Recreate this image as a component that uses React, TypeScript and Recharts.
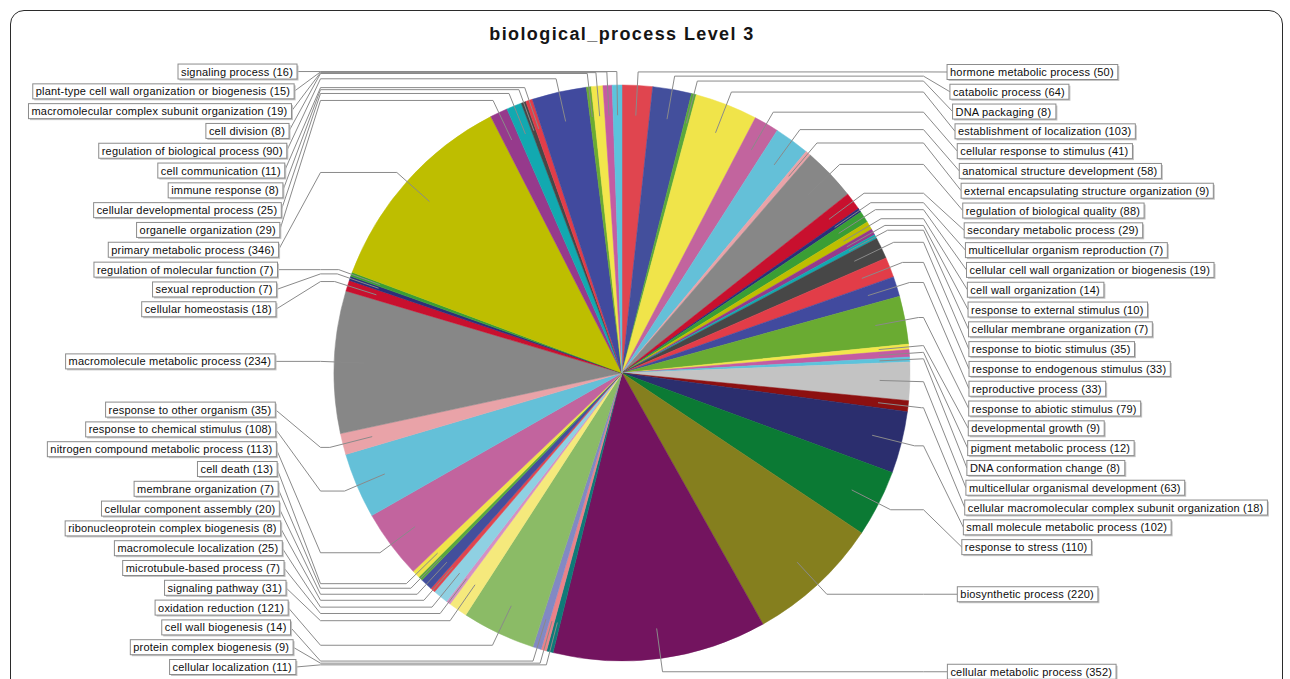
import React from 'react';
import { PieChart, Pie, Cell } from 'recharts';

// slices in drawing order, clockwise from 12 o'clock
const categories = [
  'hormone metabolic process',
  'catabolic process',
  'DNA packaging',
  'establishment of localization',
  'cellular response to stimulus',
  'anatomical structure development',
  'external encapsulating structure organization',
  'regulation of biological quality',
  'secondary metabolic process',
  'multicellular organism reproduction',
  'cellular cell wall organization or biogenesis',
  'cell wall organization',
  'response to external stimulus',
  'cellular membrane organization',
  'response to biotic stimulus',
  'response to endogenous stimulus',
  'reproductive process',
  'response to abiotic stimulus',
  'developmental growth',
  'pigment metabolic process',
  'DNA conformation change',
  'multicellular organismal development',
  'cellular macromolecular complex subunit organization',
  'small molecule metabolic process',
  'response to stress',
  'biosynthetic process',
  'cellular metabolic process',
  'cellular localization',
  'protein complex biogenesis',
  'cell wall biogenesis',
  'oxidation reduction',
  'signaling pathway',
  'microtubule-based process',
  'macromolecule localization',
  'ribonucleoprotein complex biogenesis',
  'cellular component assembly',
  'membrane organization',
  'cell death',
  'nitrogen compound metabolic process',
  'response to chemical stimulus',
  'response to other organism',
  'macromolecule metabolic process',
  'cellular homeostasis',
  'sexual reproduction',
  'regulation of molecular function',
  'primary metabolic process',
  'organelle organization',
  'cellular developmental process',
  'immune response',
  'cell communication',
  'regulation of biological process',
  'cell division',
  'macromolecular complex subunit organization',
  'plant-type cell wall organization or biogenesis',
  'signaling process',
];

const counts = [
  50, 64, 8, 103, 41, 58, 9, 88, 29, 7, 19, 14, 10, 7, 35, 33, 33, 79, 9, 12, 8, 63, 18, 102, 110, 220, 352,
  11, 9, 14, 121, 31, 7, 25, 8, 20, 7, 13, 113, 108, 35, 234, 18, 7, 7, 346, 29, 25, 8, 11, 90, 8, 19, 15, 16,
];

const chartTitle = 'biological_process Level 3';

// jfreechart-like default paint sequence, toned to the picture
const palette = [
  '#e0454f', '#434f9c', '#5aa83c', '#f0e44a', '#c2649e', '#64c0d8', '#e9a3a8', '#878787',
  '#c8102e', '#2b2f7a', '#3a9e35', '#bebe00', '#963a8c', '#12a9b0', '#474747',
  '#e23d48', '#414a9e', '#6aab32', '#f2e64c', '#c45ca2', '#5cc3dc', '#c3c3c3',
  '#8c1010', '#2b2e6e', '#0b7a34', '#857f1e', '#73145f', '#0e7a78',
  '#ea8289', '#8289c4', '#8bbb66', '#f5e97c', '#d590c4', '#8fd0e2',
];

const data = categories.map((name, i) => ({ name, value: counts[i] }));

const CX = 622;
const CY = 373;
const RADIUS = 288;
const ROW = 19.8;
const TOP_Y = 72;
const BOTTOM_Y = 667;
const FONT = '11px "Liberation Sans", Arial, sans-serif';
const SPACING = 0.2;

// label y slots, spread like jfreechart's label distributor
function layoutLabels() {
  const total = counts.reduce((a, b) => a + b, 0);
  const labelR = RADIUS + 13.5;
  const ys: number[] = [];
  const right: number[] = [];
  const left: number[] = [];
  let cum = 0;
  counts.forEach((v, i) => {
    const theta = ((cum + v / 2) / total) * Math.PI * 2;
    cum += v;
    ys[i] = CY - Math.cos(theta) * labelR;
    (theta < Math.PI ? right : left).push(i);
  });
  const spread = (idx: number[]) => {
    idx.sort((a, b) => ys[a] - ys[b]);
    for (let k = 1; k < idx.length; k++) {
      const prev = ys[idx[k - 1]];
      if (ys[idx[k]] < prev + ROW) ys[idx[k]] = Math.min(BOTTOM_Y, prev + ROW);
    }
    for (let k = idx.length - 1; k > 0; k--) {
      const next = ys[idx[k]];
      if (ys[idx[k - 1]] > next - ROW) ys[idx[k - 1]] = Math.max(TOP_Y, next - ROW);
    }
  };
  spread(right);
  spread(left);
  return ys;
}

const labelY = layoutLabels();

let ctx: CanvasRenderingContext2D | null = null;
function textWidth(s: string) {
  if (!ctx) {
    ctx = document.createElement('canvas').getContext('2d');
  }
  if (!ctx) return s.length * 5.6;
  ctx.font = FONT;
  return ctx.measureText(s).width + s.length * SPACING;
}

// label boxes sit on a flat ellipse around the pie
const edgeOffset = (y: number) => 347 * Math.sqrt(Math.max(0, 1 - ((y - CY) / 860) ** 2));

const RAD = Math.PI / 180;

function renderLabel(props: any) {
  const { cx, cy, midAngle, outerRadius, index } = props;
  const cos = Math.cos(-midAngle * RAD);
  const sin = Math.sin(-midAngle * RAD);
  const linkR = outerRadius * 0.895;
  const elbowR = outerRadius + 13.5;
  const lx = cx + linkR * cos;
  const ly = cy + linkR * sin;
  const ex = cx + elbowR * cos;
  const ey = cy + elbowR * sin;
  const isRight = cos >= 0;
  const anchorX = isRight ? cx + elbowR : cx - elbowR;
  const y = labelY[index];
  const edge = isRight ? cx + edgeOffset(y) : cx - edgeOffset(y);
  const text = `${categories[index]} (${counts[index]})`;
  const w = textWidth(text) + 7;
  const bx = isRight ? edge : edge - w;
  const by = y - 7.5;
  return (
    <g key={`lbl-${index}`}>
      <polyline
        points={`${lx},${ly} ${ex},${ey} ${anchorX},${ey} ${edge},${y}`}
        fill="none"
        stroke="#8a8a8a"
        strokeWidth={1}
      />
      <rect x={bx + 1.5} y={by + 1.5} width={w} height={15} fill="#c4c4c4" />
      <rect x={bx} y={by} width={w} height={15} fill="#ffffff" stroke="#8c8c8c" strokeWidth={1} />
      <text
        x={bx + 3}
        y={y + 4}
        fontSize={11}
        letterSpacing={SPACING}
        fontFamily='"Liberation Sans", Arial, sans-serif'
        fill="#0d0d0d"
      >
        {text}
      </text>
    </g>
  );
}

export default function App() {
  return (
    <div
      style={{
        position: 'absolute',
        left: 0,
        top: 0,
        width: 1290,
        height: 679,
        overflow: 'hidden',
        background: '#ffffff',
      }}
    >
      <div
        style={{
          position: 'absolute',
          left: 10,
          top: 10,
          width: 1273,
          height: 720,
          border: '1.5px solid #2b2b2b',
          borderRadius: 14,
          boxSizing: 'border-box',
        }}
      />
      <div
        style={{
          position: 'absolute',
          left: 322,
          top: 23,
          width: 600,
          textAlign: 'center',
          fontFamily: '"Liberation Sans", Arial, sans-serif',
          fontWeight: 'bold',
          fontSize: 18,
          letterSpacing: 1.4,
          lineHeight: '22px',
          color: '#151515',
        }}
      >
        {chartTitle}
      </div>
      <div style={{ position: 'absolute', left: 0, top: 0 }}>
        <PieChart width={1290} height={679} margin={{ top: 0, right: 0, bottom: 0, left: 0 }}>
          <Pie
            data={data}
            dataKey="value"
            nameKey="name"
            cx={CX}
            cy={CY}
            outerRadius={RADIUS}
            startAngle={90}
            endAngle={-270}
            label={renderLabel}
            labelLine={false}
            isAnimationActive={false}
          >
            {data.map((d, i) => (
              <Cell
                key={d.name}
                fill={palette[i % palette.length]}
                stroke={palette[i % palette.length]}
                strokeWidth={0.5}
              />
            ))}
          </Pie>
        </PieChart>
      </div>
    </div>
  );
}
